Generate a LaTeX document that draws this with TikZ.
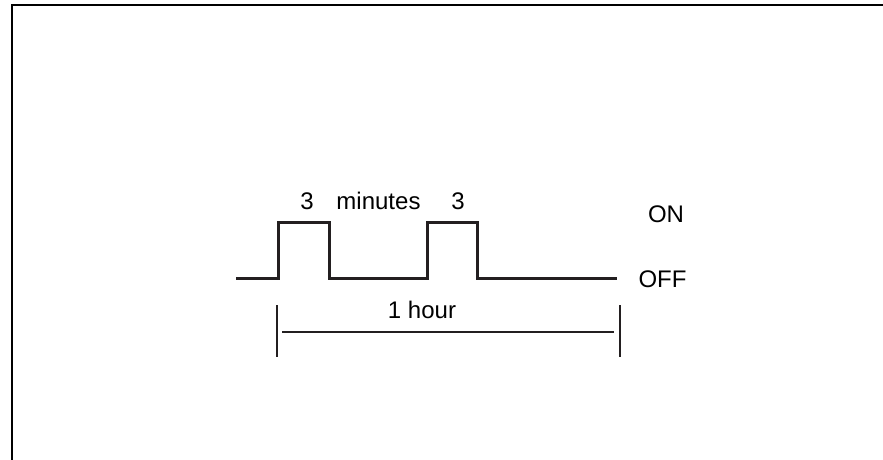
\documentclass[tikz,border=0pt]{standalone}
\usepackage{fontspec}
\setmainfont{Liberation Sans}
\usetikzlibrary{positioning}
\definecolor{inkblack}{HTML}{231F20}

\begin{document}
\begin{tikzpicture}[x=1pt, y=-1pt,
    wave/.style={line width=3pt, inkblack, line join=miter},
    scaleline/.style={line width=1.2pt, inkblack},
    lbl/.style={font=\fontsize{24}{28}\selectfont, inner sep=0pt, anchor=base}]
  \useasboundingbox (0,0) rectangle (883,460);

  % Marco
  \draw[line width=2.5pt] (883,5) -- (12,5) -- (12,460);

  % Senal ON/OFF
  \draw[wave] (236,278) -- (278,278) -- (278,222) -- (329,222) -- (329,278)
    -- (427,278) -- (427,222) -- (477,222) -- (477,278) -- (617,278);

  % Rotulos
  \node[lbl] (threeA) at (307,209) {3};
  \node[lbl] (minutes) at (378.5,209) {minutes};
  \node[lbl] (threeB) at (458,209) {3};
  \node[lbl] (on) at (666,222) {ON};
  \node[lbl] (off) at (662.5,287) {OFF};

  % Escala de una hora
  \coordinate (tickLtop) at (277,305);
  \coordinate (tickLbot) at (277,357);
  \coordinate (tickRtop) at (620,305);
  \coordinate (tickRbot) at (620,357);
  \coordinate (spanL) at (282,332);
  \coordinate (spanR) at (614,332);
  \draw[scaleline] (tickLtop) -- (tickLbot);
  \draw[scaleline] (tickRtop) -- (tickRbot);
  \draw[scaleline] (spanL) -- (spanR);
  \node[lbl] (hour) at (422,318) {1 hour};
\end{tikzpicture}
\end{document}
